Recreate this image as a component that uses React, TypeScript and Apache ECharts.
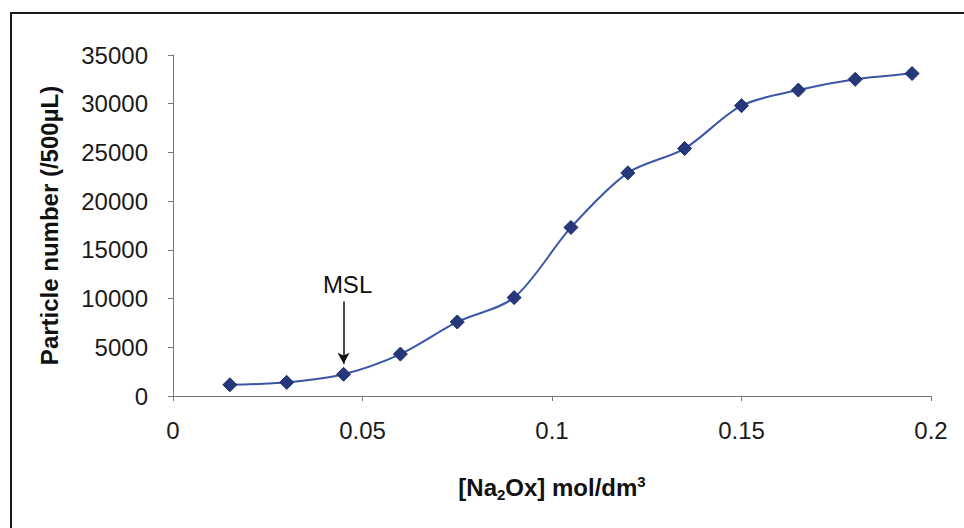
import React, { useEffect, useRef } from "react";
import * as echarts from "echarts";

const concentrations = [0.015, 0.03, 0.045, 0.06, 0.075, 0.09, 0.105, 0.12, 0.135, 0.15, 0.165, 0.18, 0.195];
const particleNumbers = [1150, 1400, 2230, 4300, 7600, 10100, 17300, 22900, 25400, 29800, 31400, 32500, 33100];
const xTicks = [0, 0.05, 0.1, 0.15, 0.2];
const yTicks = [0, 5000, 10000, 15000, 20000, 25000, 30000, 35000];
const mslX = 0.045;
const mslArrowFrom = 9700;
const mslArrowTo = 3300;
const mslLabel = "MSL";

export default function App() {
  const ref = useRef<HTMLDivElement>(null);
  useEffect(() => {
    if (!ref.current) return;
    const chart = echarts.init(ref.current, null, { renderer: "svg" });
    const font = "'Liberation Sans', Arial, sans-serif";
    chart.setOption({
      animation: false,
      backgroundColor: "#ffffff",
      textStyle: { fontFamily: font },
      graphic: [
        {
          type: "rect",
          shape: { x: 11, y: 13, width: 1000, height: 600 },
          style: { fill: "none", stroke: "#1a1a1a", lineWidth: 2 },
          silent: true,
        },
      ],
      grid: { left: 173, right: 33, top: 55, bottom: 132 },
      xAxis: {
        type: "value",
        min: xTicks[0],
        max: xTicks[xTicks.length - 1],
        interval: 0.05,
        name: "{b|[Na}{s|2}{b|Ox] mol/dm}{p|3}",
        nameLocation: "middle",
        nameGap: 76,
        nameTextStyle: {
          rich: {
            b: { fontSize: 24, fontWeight: "bold", color: "#111", fontFamily: font },
            s: { fontSize: 15, fontWeight: "bold", color: "#111", fontFamily: font, padding: [15, 0, 0, 0] },
            p: { fontSize: 15, fontWeight: "bold", color: "#111", fontFamily: font, padding: [0, 0, 11, 0] },
          },
        },
        splitLine: { show: false },
        axisLine: { lineStyle: { color: "#777", width: 1 } },
        axisTick: { show: true, length: 5, lineStyle: { color: "#777" } },
        axisLabel: {
          fontSize: 24,
          color: "#1a1a1a",
          margin: 22,
          formatter: (v: number) => String(parseFloat(v.toFixed(3))),
        },
      },
      yAxis: {
        type: "value",
        min: yTicks[0],
        max: yTicks[yTicks.length - 1],
        interval: 5000,
        name: "Particle number (/500µL)",
        nameLocation: "middle",
        nameRotate: 90,
        nameGap: 112,
        nameTextStyle: { fontSize: 24, fontWeight: "bold", color: "#111" },
        splitLine: { show: false },
        axisLine: { show: true, lineStyle: { color: "#777", width: 1 } },
        axisTick: { show: true, length: 5, lineStyle: { color: "#777" } },
        axisLabel: { fontSize: 24, color: "#1a1a1a", margin: 25, formatter: (v: number) => String(v) },
      },
      series: [
        {
          type: "line",
          data: concentrations.map((c, i) => [c, particleNumbers[i]]),
          smooth: 0.3,
          symbol: "diamond",
          symbolSize: 14,
          lineStyle: { color: "#3a56a6", width: 2 },
          itemStyle: { color: "#27377c", borderColor: "#1c2a66", borderWidth: 1 },
          markLine: {
            silent: true,
            symbol: ["none", "arrow"],
            symbolSize: [9, 11],
            lineStyle: { color: "#111", width: 1.5, type: "solid" },
            label: {
              show: true,
              position: "start",
              formatter: mslLabel,
              fontSize: 24,
              color: "#111",
              distance: 5,
              fontFamily: font,
              offset: [4, 0],
            },
            data: [
              [
                { coord: [mslX, mslArrowFrom] },
                { coord: [mslX, mslArrowTo] },
              ],
            ],
          },
        },
      ],
    });
    return () => chart.dispose();
  }, []);
  return <div ref={ref} style={{ width: 964, height: 528, position: "absolute", left: 0, top: 0 }} />;
}
